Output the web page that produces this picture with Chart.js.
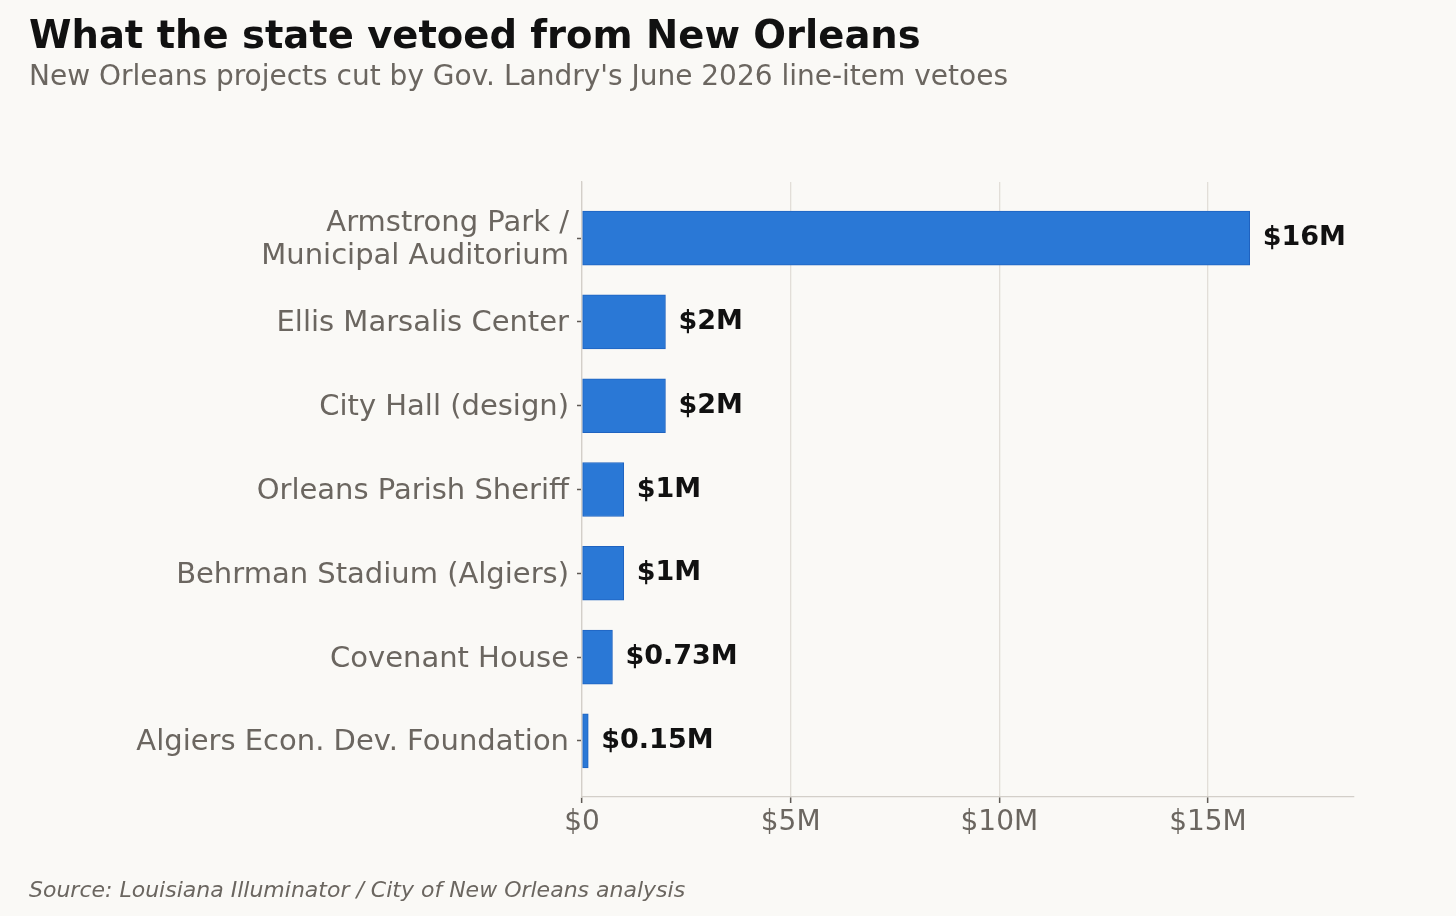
<!DOCTYPE html>
<html>
<head>
<meta charset="utf-8">
<script src="https://cdn.jsdelivr.net/npm/chart.js@4"></script>
<style>
  html, body { margin: 0; padding: 0; background: #faf9f6; }
  body { width: 1456px; height: 916px; position: relative; overflow: hidden; font-family: "DejaVu Sans", sans-serif; }
  #wrap { position: absolute; left: 0; top: 0; width: 1456px; height: 916px; }
  .t { position: absolute; left: 29px; white-space: nowrap; line-height: 1; }
  #title { top: 16px; font-size: 38.5px; font-weight: bold; color: #111; }
  #subtitle { top: 62px; font-size: 28px; color: #6b6660; }
  #source { top: 879px; font-size: 22px; font-style: italic; color: #6b6660; }
</style>
</head>
<body>
<div id="wrap"><canvas id="c" width="1456" height="916"></canvas></div>
<div class="t" id="title">What the state vetoed from New Orleans</div>
<div class="t" id="subtitle">New Orleans projects cut by Gov. Landry's June 2026 line-item vetoes</div>
<div class="t" id="source">Source: Louisiana Illuminator / City of New Orleans analysis</div>
<script>
const categories = [
  ["Armstrong Park /", "Municipal Auditorium"],
  "Ellis Marsalis Center",
  "City Hall (design)",
  "Orleans Parish Sheriff",
  "Behrman Stadium (Algiers)",
  "Covenant House",
  "Algiers Econ. Dev. Foundation"
];
const vetoedMillions = [16, 2, 2, 1, 1, 0.73, 0.15];
const xTickValues = [0, 5, 10, 15];

const FONT = '"DejaVu Sans", sans-serif';
const GRAY = '#6b6660';

const valueLabels = {
  id: 'valueLabels',
  afterDatasetsDraw(chart) {
    const ctx = chart.ctx;
    const meta = chart.getDatasetMeta(0);
    ctx.save();
    ctx.font = 'bold 27px ' + FONT;
    ctx.fillStyle = '#111';
    ctx.textAlign = 'left';
    ctx.textBaseline = 'middle';
    meta.data.forEach((bar, i) => {
      ctx.fillText('$' + vetoedMillions[i] + 'M', bar.x + 13, bar.y);
    });
    ctx.restore();
  }
};

new Chart(document.getElementById('c'), {
  type: 'bar',
  data: {
    datasets: [{
      data: vetoedMillions.map((v, i) => ({ x: v, y: i })),
      backgroundColor: '#2a78d6',
      borderColor: '#1f63c0',
      borderWidth: 1,
      borderSkipped: false,
      barThickness: 54
    }]
  },
  options: {
    indexAxis: 'y',
    responsive: false,
    animation: false,
    layout: { padding: { top: 182, right: 102, left: 0, bottom: 0 } },
    plugins: { legend: { display: false }, tooltip: { enabled: false }, title: { display: false } },
    scales: {
      x: {
        type: 'linear',
        min: 0,
        max: 18.5,
        afterBuildTicks(scale) { scale.ticks = xTickValues.map(v => ({ value: v })); },
        afterFit(scale) { scale.height = 119; },
        ticks: {
          color: GRAY,
          font: { family: FONT, size: 28 },
          padding: 3,
          callback: v => v === 0 ? '$0' : '$' + v + 'M'
        },
        grid: { color: '#e2ded8', lineWidth: 1.3, drawTicks: true, tickLength: 6, tickColor: '#5f5a55', tickWidth: 1.5 },
        border: { display: true, color: '#d3cfc9', width: 1.3 }
      },
      y: {
        type: 'linear',
        reverse: true,
        offset: false,
        min: -0.67,
        max: 6.67,
        afterBuildTicks(scale) { scale.ticks = categories.map((_, i) => ({ value: i })); },
        afterFit(scale) { scale.width = 582; },
        ticks: {
          color: GRAY,
          font: { family: FONT, size: 29, lineHeight: 1.13 },
          padding: 8,
          labelOffset: 2,
          autoSkip: false,
          callback: v => categories[v]
        },
        grid: { offset: false, drawOnChartArea: false, drawTicks: true, tickLength: 5, tickColor: '#5f5a55', tickWidth: 1.5 },
        border: { display: true, color: '#d3cfc9', width: 1.3 }
      }
    }
  },
  plugins: [valueLabels]
});
</script>
</body>
</html>
